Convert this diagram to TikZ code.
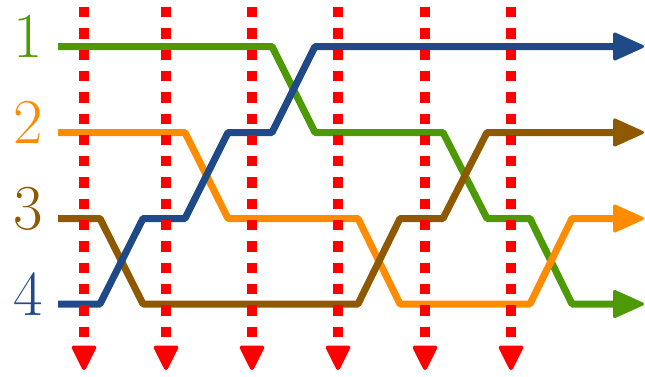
\documentclass[tikz,border=0pt]{standalone}
\usepackage{fontspec}
\usetikzlibrary{arrows.meta}
\definecolor{cgreen}{RGB}{78,154,6}
\definecolor{corange}{RGB}{255,140,0}
\definecolor{cbrown}{RGB}{143,89,2}
\definecolor{cblue}{RGB}{32,74,135}
\definecolor{cred}{RGB}{255,0,0}
\begin{document}
\begin{tikzpicture}[x=1pt,y=-1pt,
  wire/.style={line width=7pt,line join=round,-{Triangle[length=33pt,width=29pt,line width=3pt,round]}},
  probe/.style={cred,line width=10pt,dash pattern=on 10.3pt off 11pt,-{Triangle[length=27pt,width=26pt,line width=4pt,round]}},
  lab/.style={anchor=base,inner sep=0pt,font=\fontsize{64}{64}\selectfont}]
\useasboundingbox (0,0) rectangle (645,376);
% labels
\node[lab,text=cgreen]  (l1) at (28,57.5) {1};
\node[lab,text=corange] (l2) at (28,143.5) {2};
\node[lab,text=cbrown]  (l3) at (28,229.5) {3};
\node[lab,text=cblue]   (l4) at (28,315) {4};
% wires
\coordinate (s1) at (58,46.5);  \coordinate (e1) at (644,46.5);
\coordinate (s2) at (58,132.5); \coordinate (e2) at (644,132.5);
\coordinate (s3) at (58,218.5); \coordinate (e3) at (644,218.5);
\coordinate (s4) at (58,304);   \coordinate (e4) at (644,304);
\draw[wire,cgreen]  (s1) -- (272,46.5) -- (315,132.5) -- (443,132.5) -- (487,218.5) -- (530,218.5) -- (572,304) -- (e4);
\draw[wire,corange] (s2) -- (185,132.5) -- (228,218.5) -- (358,218.5) -- (400,304) -- (530,304) -- (572,218.5) -- (e3);
\draw[wire,cbrown]  (s3) -- (100,218.5) -- (143,304) -- (358,304) -- (400,218.5) -- (443,218.5) -- (487,132.5) -- (e2);
\draw[wire,cblue]   (s4) -- (100,304) -- (143,218.5) -- (185,218.5) -- (228,132.5) -- (272,132.5) -- (315,46.5) -- (e1);
% probes
\foreach \x [count=\i] in {84,166,252,338,425,511}{
  \coordinate (pt\i) at (\x,7);
  \coordinate (pb\i) at (\x,370);
  \draw[probe] (pt\i) -- (pb\i);
}
\end{tikzpicture}
\end{document}
